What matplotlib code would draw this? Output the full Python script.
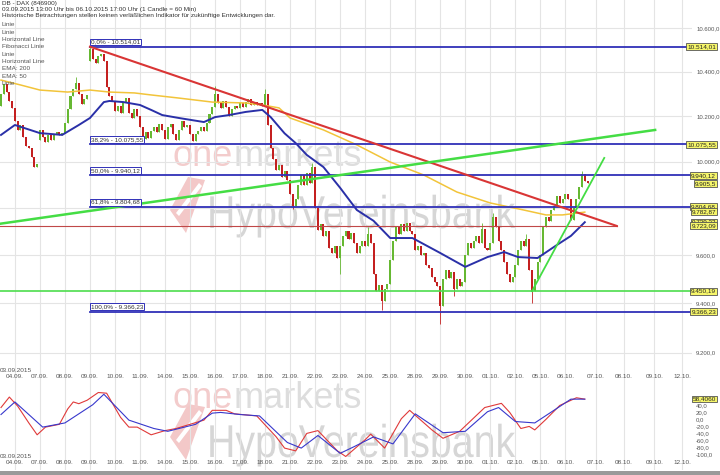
import numpy as np
import matplotlib
matplotlib.use("Agg")
import matplotlib.pyplot as plt
import matplotlib.transforms as mtransforms
from matplotlib.patches import Polygon, PathPatch
from matplotlib.textpath import TextPath
from matplotlib.font_manager import FontProperties
from matplotlib.ticker import NullLocator

plt.rcParams['font.family'] = ['Liberation Sans', 'DejaVu Sans']

# hourly closes, 9 candles per day (first day 5)
day_closes = [
    [10300, 10345, 10310, 10270, 10235],                              # 03.09
    [10180, 10140, 10160, 10110, 10070, 10060, 10020, 9975, 9990],    # 04.09
    [10140, 10110, 10085, 10115, 10095, 10120, 10130, 10115, 10125],  # 07.09
    [10170, 10230, 10290, 10320, 10350, 10300, 10255, 10275, 10295],  # 08.09
    [10505, 10460, 10440, 10470, 10480, 10450, 10330, 10290, 10270],  # 09.09
    [10225, 10245, 10215, 10265, 10280, 10215, 10190, 10230, 10200],  # 10.09
    [10150, 10100, 10130, 10105, 10135, 10150, 10130, 10165, 10140],  # 11.09
    [10100, 10150, 10165, 10120, 10095, 10140, 10180, 10150, 10160],  # 14.09
    [10120, 10090, 10120, 10135, 10150, 10135, 10170, 10210, 10240],  # 15.09
    [10300, 10260, 10235, 10270, 10240, 10200, 10230, 10245, 10235],  # 16.09
    [10260, 10240, 10265, 10275, 10250, 10265, 10250, 10260, 10245],  # 17.09
    [10300, 10160, 10060, 10010, 9965, 9985, 9935, 9960, 9920],       # 18.09
    [9860, 9810, 9840, 9900, 9940, 9900, 9950, 9905, 9975],           # 21.09
    [9800, 9705, 9730, 9680, 9700, 9630, 9610, 9640, 9590],           # 22.09
    [9640, 9680, 9700, 9670, 9695, 9650, 9610, 9640, 9660],           # 23.09
    [9640, 9690, 9650, 9520, 9450, 9475, 9410, 9460, 9480],           # 24.09
    [9580, 9660, 9720, 9690, 9730, 9700, 9735, 9700, 9690],           # 25.09
    [9620, 9640, 9600, 9610, 9560, 9545, 9510, 9490, 9470],           # 28.09
    [9390, 9500, 9540, 9505, 9530, 9460, 9500, 9470, 9490],           # 29.09
    [9600, 9650, 9630, 9660, 9680, 9650, 9710, 9630, 9620],           # 30.09
    [9650, 9760, 9720, 9660, 9620, 9570, 9520, 9490, 9510],           # 01.10
    [9560, 9620, 9660, 9640, 9670, 9540, 9450, 9500, 9570],           # 02.10
    [9600, 9720, 9760, 9745, 9790, 9810, 9850, 9820, 9840],           # 05.10
    [9860, 9840, 9750, 9800, 9840, 9890, 9945, 9915, 9905.5],         # 06.10
]
first_open = 10245
gap_opens = {14: 10095, 32: 10450}
wick_highs = {27: 10375, 32: 10514.01, 77: 10335, 95: 10320, 112: 9995,
              132: 9720, 173: 9735, 177: 9780, 189: 9690, 209: 9960}
wick_lows = {105: 9795, 122: 9520, 137: 9375, 158: 9315, 163: 9430,
             191: 9400, 195: 9650}

# moving averages as drawn (candle index, value)
ema50_idx = [0, 5, 14, 22, 28, 32, 37, 39, 44, 50, 54, 58, 64, 73, 77, 82, 88, 94, 97,
             102, 106, 110, 116, 122, 128, 134, 140, 148, 158, 167, 175, 181, 186, 193,
             200, 205, 210]
ema50 = [10117, 10161, 10125, 10117, 10161, 10192, 10263, 10268, 10263, 10250, 10228,
         10205, 10192, 10174, 10196, 10205, 10219, 10228, 10196, 10124, 10081, 10029,
         9976, 9886, 9791, 9745, 9672, 9672, 9609, 9551, 9592, 9613, 9592, 9588, 9643,
         9681, 9739]
ema200_idx = [0, 7, 14, 24, 32, 39, 48, 54, 64, 76, 88, 94, 100, 104, 116, 128, 140, 152,
              164, 176, 188, 196, 202, 210]
ema200 = [10362, 10340, 10317, 10308, 10317, 10308, 10304, 10295, 10281, 10263, 10259,
          10250, 10237, 10192, 10139, 10073, 9998, 9942, 9868, 9821, 9791, 9770, 9770,
          9782]

# date axis (candle index of first candle of each day)
date_idx = [5, 14, 23, 32, 41, 50, 59, 68, 77, 86, 95, 104, 113, 122, 131, 140,
            149, 158, 167, 176, 185, 194, 203, 214, 224, 235, 245]
date_lbl = ['04.09.', '07.09.', '08.09.', '09.09.', '10.09.', '11.09.', '14.09.',
            '15.09.', '16.09.', '17.09.', '18.09.', '21.09.', '22.09.', '23.09.',
            '24.09.', '25.09.', '28.09.', '29.09.', '30.09.', '01.10.', '02.10.',
            '05.10.', '06.10.', '07.10.', '08.10.', '09.10.', '12.10.']

price_ticks = [9200, 9400, 9600, 9800, 10000, 10200, 10400, 10600]

# drawing tools
fib_start = 32
fib_levels = [10514.01, 10075.55, 9940.12, 9804.68, 9366.23]
fib_names = ['0,0%', '38,2%', '50,0%', '61,8%', '100,0%']
fib_texts = ['10.514,01', '10.075,55', '9.940,12', '9.804,68', '9.366,23']
red_trend = ([32, 221.5], [10514.01, 9723.09])
green_trend = ([0, 235.3], [9733, 10139])
steep_trend = ([191, 217], [9450.19, 10016])
red_level = 9723.09
green_level = 9450.19
value_boxes = [(9905.5, '9.905,5'), (9782.87, '9.782,87'), (9739.32, '9.739,32'),
               (9723.09, '9.723,09'), (9450.19, '9.450,19')]

# oscillator (read at candle index)
osc_fast_idx = [0, 3, 6, 10, 13, 16, 21, 24, 26, 28, 31, 35, 38, 43, 46, 49, 54, 59, 63,
                68, 73, 76, 81, 84, 92, 99, 102, 106, 110, 114, 121, 124, 131, 133, 138,
                144, 147, 155, 159, 165, 174, 180, 183, 187, 190, 192, 196, 201, 207, 210]
osc_fast = [34, 64, 38, -10, -44, -22, -14, 30, 50, 45, 55, 77, 75, 6, -22, -22, -44,
            -32, -26, -14, -2, 26, 26, 16, 10, -50, -82, -90, -40, -32, -90, -106, -58,
            -42, -82, 2, 26, -30, -54, -34, 34, 46, 20, -26, -20, -30, 0, 40, 62, 58]
osc_slow_idx = [0, 5, 15, 23, 33, 37, 46, 55, 60, 70, 76, 79, 86, 93, 103, 108, 114,
                122, 127, 134, 141, 149, 159, 167, 175, 179, 185, 192, 205, 210]
osc_slow = [14, 50, -22, -10, 42, 72, -2, -26, -34, -14, 18, 20, 14, 10, -66, -82, -46,
            -97, -78, -50, -70, 16, -38, -34, 22, 34, -6, -10, 58, 58]
osc_ticks = [-100, -80, -60, -40, -20, 0, 20, 40]

# ---------------------------------------------------------------------------
closes = np.array([c for d in day_closes for c in d], dtype=float)
n = len(closes)
idx = np.arange(n)
opens = np.concatenate([[first_open], closes[:-1]])
for k, v in gap_opens.items():
    opens[k] = v
highs = np.maximum(opens, closes)
lows = np.minimum(opens, closes)
for k, v in wick_highs.items():
    highs[k] = max(highs[k], v)
for k, v in wick_lows.items():
    lows[k] = min(lows[k], v)

W, H = 720, 475
fig = plt.figure(figsize=(7.2, 4.75), dpi=100)
fig.patch.set_facecolor('white')


def fbox(x0, y0, x1, y1):
    return [x0 / W, 1 - y1 / H, (x1 - x0) / W, (y1 - y0) / H]


ax = fig.add_axes(fbox(0, 0, 692, 383))
ax2 = fig.add_axes(fbox(0, 383, 692, 470))

px_per_idx = 2.78
xlim = (-1 / px_per_idx, 691 / px_per_idx)

grid_c = '#e4e4e4'
fs = 4.6

for a in (ax, ax2):
    a.set_xlim(*xlim)
    a.set_xticks(date_idx)
    a.tick_params(axis='x', length=0, labelbottom=False)
    a.grid(True, axis='x', color=grid_c, lw=0.8)
    for s in a.spines.values():
        s.set_visible(False)
    a.set_facecolor('none')

# main panel -----------------------------------------------------------------
ax.set_yscale('log')
ax.set_ylim(9079.2, 10730.4)
ax.yaxis.set_minor_locator(NullLocator())
ax.set_yticks(price_ticks)
ax.set_yticklabels([f"{t:,.1f}".replace(',', 'X').replace('.', ',').replace('X', '.')
                    for t in price_ticks])
ax.yaxis.tick_right()
ax.tick_params(axis='y', length=0, labelsize=4.3, pad=3, colors='#555555')
ax.grid(True, axis='y', color=grid_c, lw=0.8)

up = closes >= opens
body_lo = np.minimum(opens, closes)
body_h = np.maximum(np.abs(closes - opens), 3)
ax.vlines(idx, lows, highs, color=np.where(up, '#66b832', '#c42020'), lw=0.6, zorder=3)
ax.bar(idx[up], body_h[up], bottom=body_lo[up], width=0.72, color='#66b832', zorder=3)
ax.bar(idx[~up], body_h[~up], bottom=body_lo[~up], width=0.72, color='#c42020', zorder=3)

ax.plot(ema200_idx, ema200, color='#f2c43a', lw=1.1, zorder=4)
ax.plot(ema50_idx, ema50, color='#2a30a8', lw=1.4, zorder=4)

for lvl in fib_levels:
    ax.plot([fib_start, xlim[1]], [lvl, lvl], color='#3030b8', lw=1.3, zorder=5)
ax.plot([xlim[0], red_trend[0][1]], [red_level, red_level], color='#c04848', lw=0.8, zorder=5)
ax.axhline(green_level, color='#4ddd4d', lw=1.2, zorder=5)
ax.plot(*red_trend, color='#d93535', lw=1.5, zorder=5)
ax.plot(*green_trend, color='#44dd44', lw=1.8, zorder=5)
ax.plot(*steep_trend, color='#44dd44', lw=1.3, zorder=5)

for name, lvl, txt in zip(fib_names, fib_levels, fib_texts):
    ax.annotate(f"{name} - {txt}", (fib_start, lvl), xytext=(0.6, 1.6),
                textcoords='offset points', ha='left', va='bottom', fontsize=fs,
                color='#333333', zorder=7,
                bbox=dict(boxstyle='square,pad=0.15', fc='white', ec='#3030b8', lw=0.7))

trans_r = mtransforms.blended_transform_factory(ax.transAxes, ax.transData)
right_x = 716 / 692
boxes = [(lvl, txt) for lvl, txt in zip(fib_levels, fib_texts)] + value_boxes
for lvl, txt in boxes:
    ax.text(right_x, lvl, txt, transform=trans_r, ha='right', va='center', fontsize=fs,
            color='#222222', zorder=8, clip_on=False,
            bbox=dict(boxstyle='square,pad=0.15', fc='#f6f66a', ec='#555555', lw=0.6))

trans_b = mtransforms.blended_transform_factory(ax.transData, ax.transAxes)
for x, lbl in zip(date_idx, date_lbl):
    ax.text(x, 6 / 383, lbl, transform=trans_b, ha='center', va='center',
            fontsize=fs, color='#555555')
ax.text(-0.3, 13 / 383, '03.09.2015', transform=trans_b, ha='left', va='center',
        fontsize=fs, color='#555555')

# oscillator panel -------------------------------------------------------------
ax2.set_ylim(-144.7, 104.2)
ax2.set_yticks(osc_ticks)
ax2.set_yticklabels([f"{t},0" for t in osc_ticks])
ax2.yaxis.tick_right()
ax2.tick_params(axis='y', length=0, labelsize=4.3, pad=3, colors='#555555')
ax2.plot(osc_fast_idx, osc_fast, color='#e03a3a', lw=0.8, zorder=4)
ax2.plot(osc_slow_idx, osc_slow, color='#3838cc', lw=0.8, zorder=4)
ax2.text(right_x, 58.406, '58,4060', transform=mtransforms.blended_transform_factory(
    ax2.transAxes, ax2.transData), ha='right', va='center', fontsize=fs, color='#222222',
    zorder=8, clip_on=False,
    bbox=dict(boxstyle='square,pad=0.15', fc='#f6f66a', ec='#555555', lw=0.6))
trans_b2 = mtransforms.blended_transform_factory(ax2.transData, ax2.transAxes)
for x, lbl in zip(date_idx, date_lbl):
    ax2.text(x, 7 / 87, lbl, transform=trans_b2, ha='center', va='center',
             fontsize=fs, color='#555555')
ax2.text(-0.3, 14 / 87, '03.09.2015', transform=trans_b2, ha='left', va='center',
         fontsize=fs, color='#555555')

# watermarks (pixel positions, behind the panels) ----------------------------------
hypo_path = TextPath((0, 0), 'HypoVereinsbank', size=46,
                     prop=FontProperties(family='Liberation Sans'))
hypo_sx = 305 / hypo_path.get_extents().width
for yb_one, yb_hypo, y_logo in [(166, 228, 205), (408, 457, 432)]:
    fig.text(172 / W, 1 - yb_one / H, 'one', fontsize=26, color='#f3cccc',
             va='baseline', ha='left', zorder=-2)
    fig.text(234 / W, 1 - yb_one / H, 'markets', fontsize=26, color='#dddddd',
             va='baseline', ha='left', zorder=-2)
    fig.add_artist(PathPatch(hypo_path, fc='#d6d6d6', ec='none', zorder=-2,
                             transform=mtransforms.Affine2D().scale(hypo_sx, 1)
                             .translate(207, H - yb_hypo)))
    pts = [(170, y_logo + 5), (188, y_logo - 28), (205, y_logo - 25), (186, y_logo + 28)]
    fig.add_artist(Polygon([(x / W, 1 - y / H) for x, y in pts], closed=True,
                           fc='#f3c8c8', ec='none', transform=fig.transFigure, zorder=-2))
    stripe = [(176, y_logo + 8), (199, y_logo - 22), (202, y_logo - 19), (179, y_logo + 11)]
    fig.add_artist(Polygon([(x / W, 1 - y / H) for x, y in stripe], closed=True,
                           fc='white', ec='none', transform=fig.transFigure, zorder=-1))

fig.add_artist(Polygon([(0, 0), (1, 0), (1, 4 / H), (0, 4 / H)], closed=True,
                       fc='#9a9a9a', ec='none', transform=fig.transFigure))

# header text -------------------------------------------------------------------
header = ['DB - DAX (846900)',
          '03.09.2015 13:00 Uhr bis 06.10.2015 17:00 Uhr (1 Candle = 60 Min)',
          'Historische Betrachtungen stellen keinen verläßlichen Indikator für zukünftige Entwicklungen dar.']
for i, line in enumerate(header):
    fig.text(2 / W, 1 - (4 + 5.9 * i) / H, line, fontsize=fs, color='#333333',
             va='center', ha='left')
legend = ['Linie', 'Linie', 'Horizontal Line', 'Fibonacci Linie', 'Linie',
          'Horizontal Line', 'EMA: 200', 'EMA: 50', 'Linie']
for i, line in enumerate(legend):
    fig.text(2 / W, 1 - (25 + 7.3 * i) / H, line, fontsize=fs, color='#555555',
             va='center', ha='left')

fig.savefig('out.png', dpi=100)
